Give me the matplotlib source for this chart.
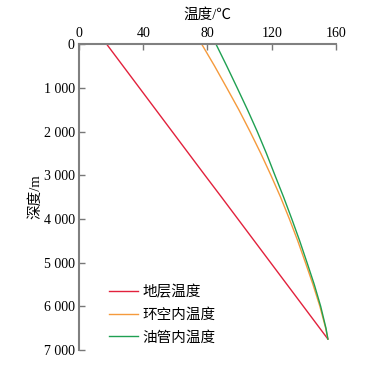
import numpy as np
import matplotlib.pyplot as plt

plt.rcParams['font.family'] = ['Liberation Serif', 'Noto Sans CJK SC']

# 深度 (m) 与各温度 (℃)
depth = [0, 500, 1000, 1500, 2000, 2500, 3000, 3500, 4000, 4500, 5000, 5500, 6000, 6500, 6750]
t_formation = [17.2, 27.4, 37.6, 47.8, 58.0, 68.2, 78.4, 88.7, 98.9, 109.1, 119.3, 129.5, 139.7, 149.9, 155.0]
t_annulus = [76.4, 84.4, 92.0, 99.5, 106.5, 113.2, 119.5, 125.5, 131.0, 136.2, 141.0, 145.7, 150.0, 153.6, 155.0]
t_tubing = [85.3, 92.0, 98.5, 104.9, 111.0, 116.7, 122.0, 127.4, 132.5, 137.4, 142.0, 146.5, 150.5, 153.8, 155.0]

xticks = [0, 40, 80, 120, 160]
yticks = [0, 1000, 2000, 3000, 4000, 5000, 6000, 7000]
ylabels = ['0', '1 000', '2 000', '3 000', '4 000', '5 000', '6 000', '7 000']

fig = plt.figure(figsize=(3.8, 3.68), dpi=100)
ax = fig.add_axes([0.208, 0.049, 0.676, 0.831])

ax.plot(t_formation, depth, color='#e2213c', lw=1.0, label='地层温度')
ax.plot(t_annulus, depth, color='#f59a3c', lw=1.0, label='环空内温度')
ax.plot(t_tubing, depth, color='#1fa052', lw=1.0, label='油管内温度')

ax.set_xlim(0, 160)
ax.set_ylim(7000, 0)
ax.set_xticks(xticks)
ax.set_yticks(yticks)
ax.set_yticklabels(ylabels)
ax.xaxis.tick_top()
ax.xaxis.set_label_position('top')
ax.set_xlabel('温度/℃', fontsize=10.5, labelpad=6)
ax.set_ylabel('深度/m', fontsize=10.5, labelpad=1)
ax.tick_params(direction='in', length=4, width=1, color='#777777', labelsize=10, pad=3)

for s in ['right', 'bottom']:
    ax.spines[s].set_visible(False)
for s in ['left', 'top']:
    ax.spines[s].set_color('#808080')
    ax.spines[s].set_linewidth(1.5)

ax.legend(loc='lower left', bbox_to_anchor=(0.065, -0.025), frameon=False,
          fontsize=10.5, handlelength=2.0, handletextpad=0.3, labelspacing=0.62)

fig.savefig('out.png', dpi=100)
